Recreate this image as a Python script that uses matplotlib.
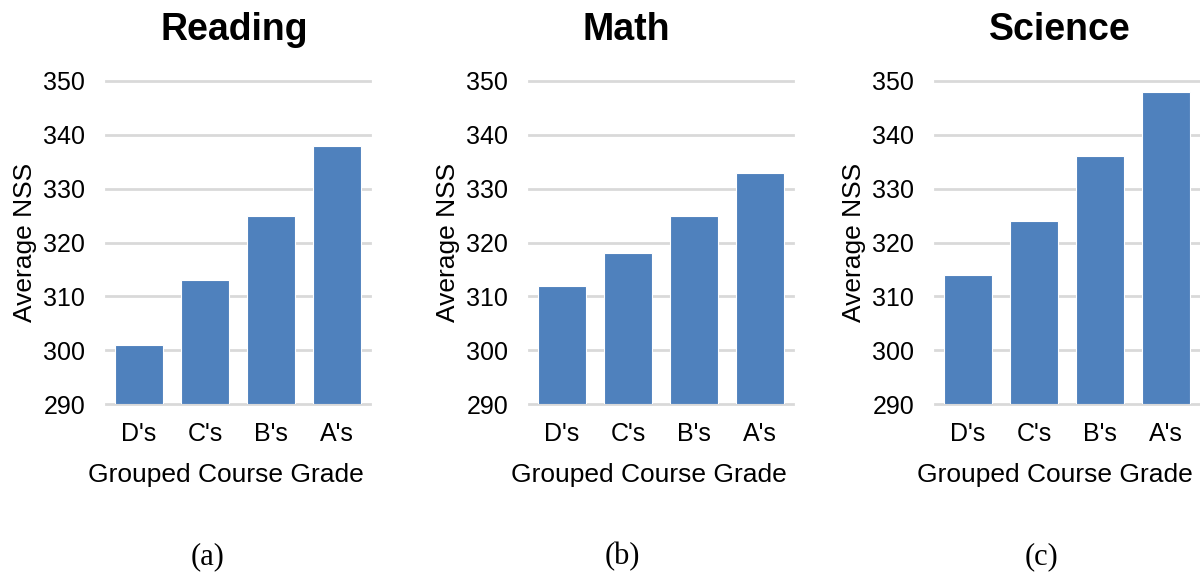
import matplotlib.pyplot as plt
import numpy as np

plt.rcParams["font.family"] = ["Liberation Sans", "DejaVu Sans"]

grades = ["D's", "C's", "B's", "A's"]
subjects = ["Reading", "Math", "Science"]
captions = ["(a)", "(b)", "(c)"]
reading = [301, 313, 325, 338]
math = [312, 318, 325, 333]
science = [314, 324, 336, 348]
yticks = [290, 300, 310, 320, 330, 340, 350]

BAR = "#4F81BD"
GRID = "#D9D9D9"

fig = plt.figure(figsize=(12, 5.75), dpi=100)

# panel left edges and width in pixels
lefts = [106, 529, 935]
width = 264
bottom, top = 404, 81
title_x = [234, 626, 1060]
caption_x = [208, 622, 1042]

for i, (name, vals) in enumerate(zip(subjects, [reading, math, science])):
    ax = fig.add_axes([lefts[i] / 1200, 1 - bottom / 575, width / 1200, (bottom - top) / 575])
    x = np.arange(len(grades))
    ax.bar(x, np.array(vals) - 290, bottom=290, width=0.72, color=BAR,
           edgecolor="white", linewidth=0.8, zorder=3)
    ax.set_xlim(-0.5, len(grades) - 0.5)
    ax.set_ylim(290, 350)
    ax.set_yticks(yticks)
    ax.set_xticks(x, grades)
    ax.grid(axis="y", color=GRID, linewidth=2, zorder=0)
    ax.set_axisbelow(True)
    for s in ax.spines.values():
        s.set_visible(False)
    ax.tick_params(length=0, labelsize=18)
    ax.tick_params(axis="y", pad=15)
    ax.tick_params(axis="x", pad=13)
    ax.set_ylabel("Average NSS", fontsize=19, labelpad=4.5)
    ax.set_xlabel("Grouped Course Grade", fontsize=19)
    # the x label sits a little left of the plot centre
    ax.xaxis.set_label_coords(0.5 - 12 / width, (bottom - 463) / (bottom - top))
    for ln in ax.get_ygridlines():
        ln.set_clip_on(False)

    fig.text(title_x[i] / 1200, 1 - 30 / 575, name, ha="center", va="center",
             fontsize=27, fontweight="bold")
    fig.text(caption_x[i] / 1200, 1 - 557 / 575, captions[i], ha="center", va="center",
             fontsize=22, family="Liberation Serif")

fig.savefig("out.png", dpi=100)
